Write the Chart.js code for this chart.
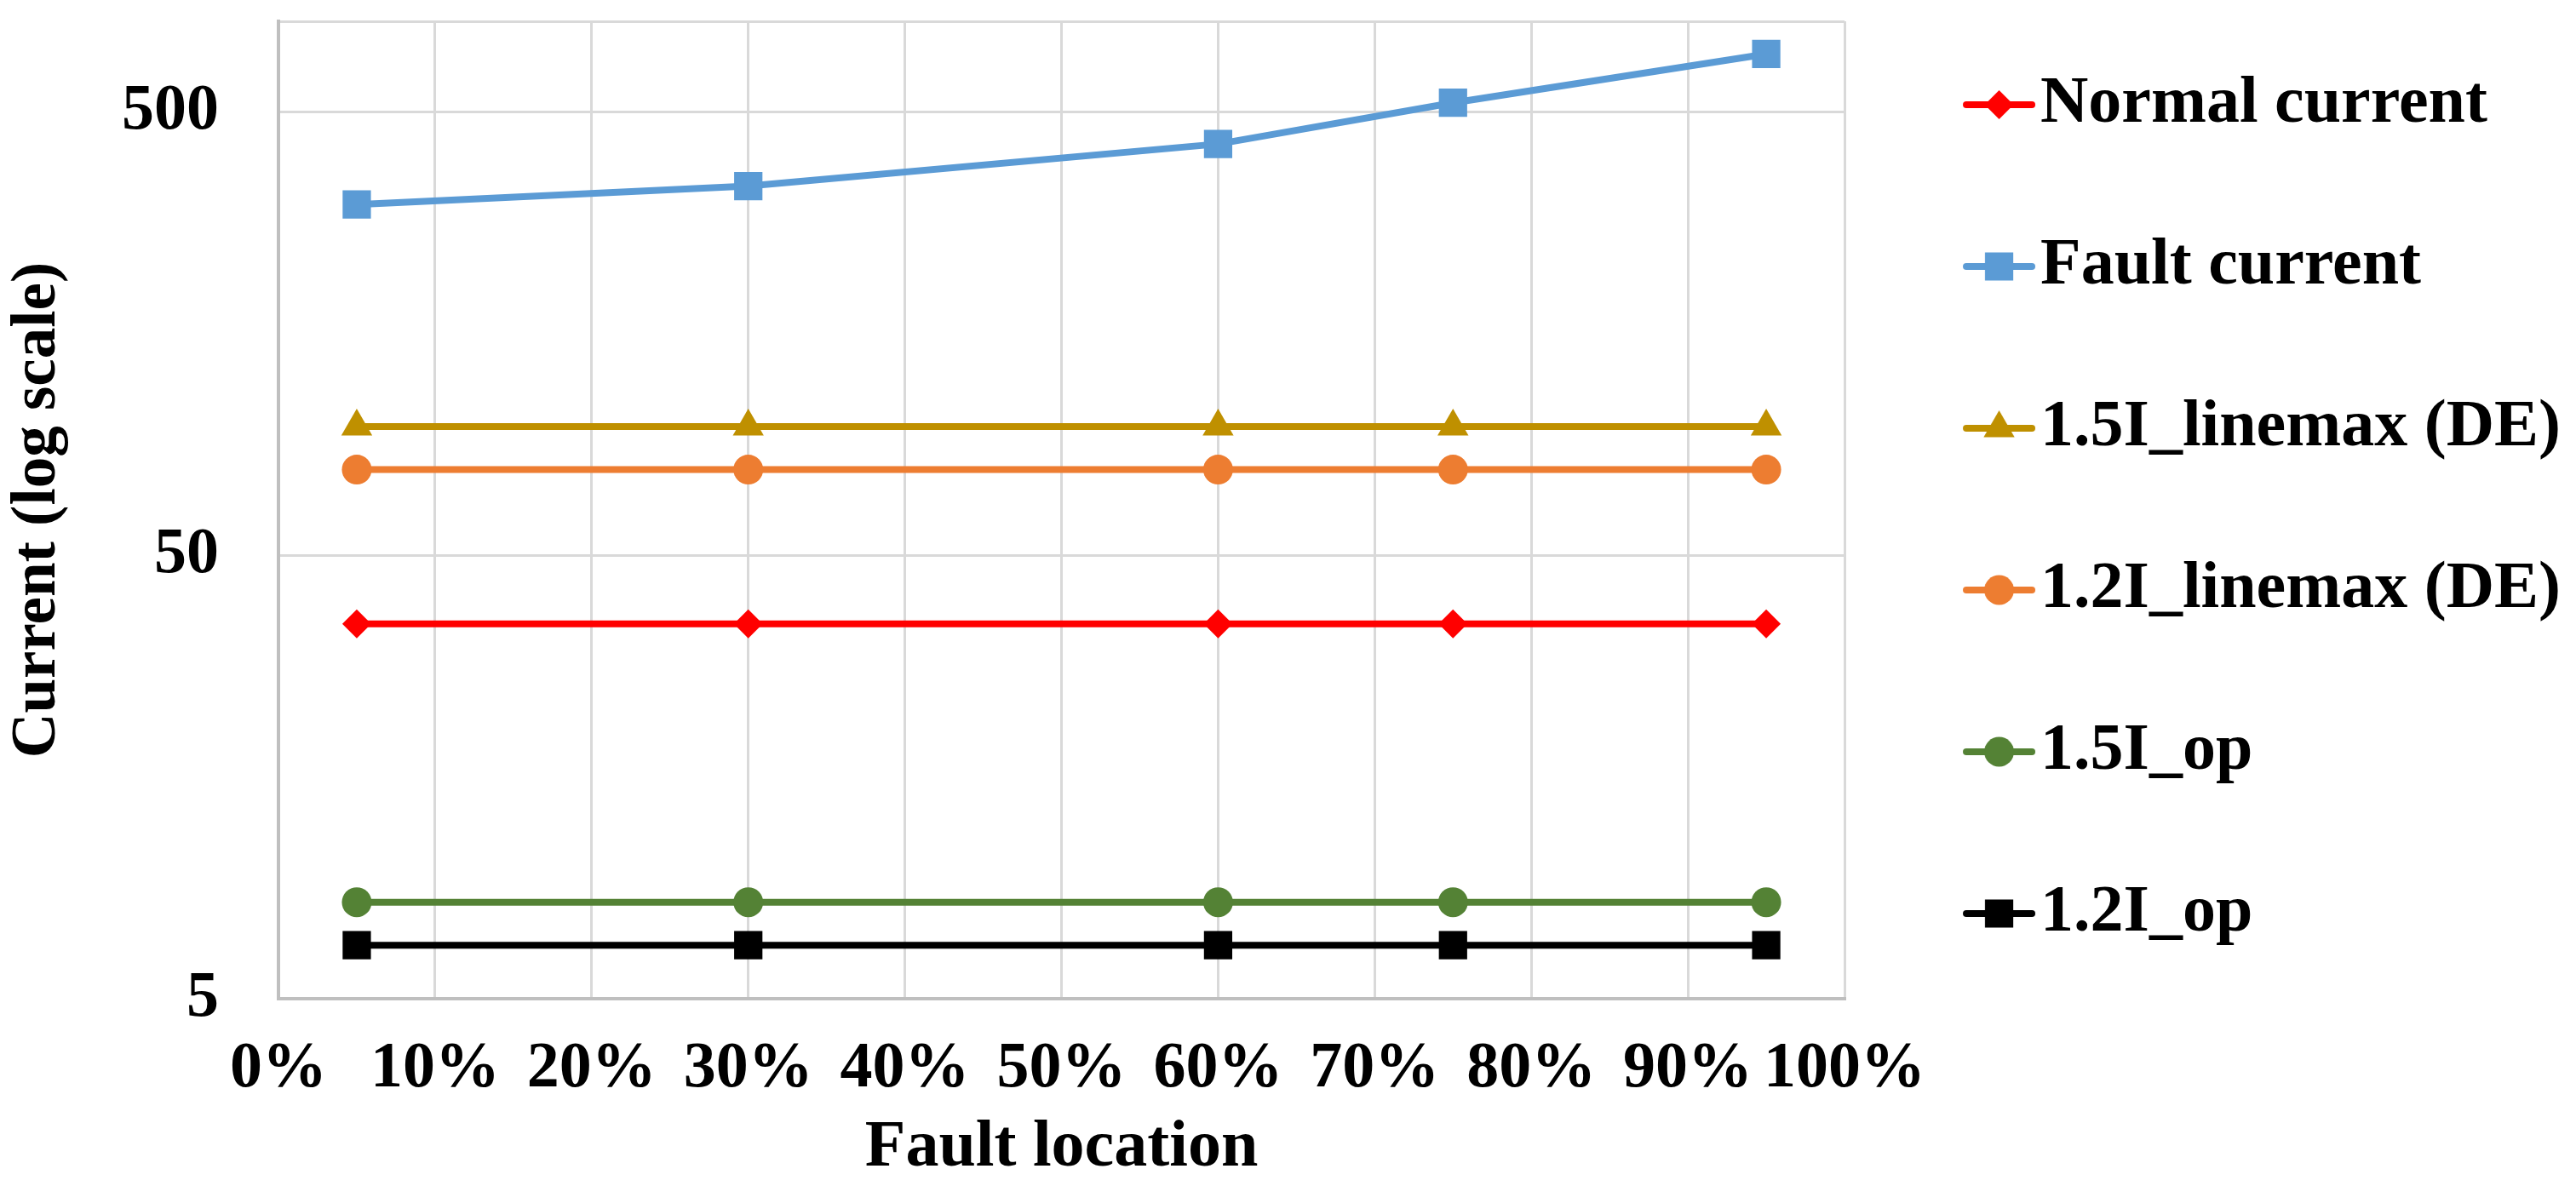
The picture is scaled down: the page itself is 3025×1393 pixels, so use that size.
<!DOCTYPE html>
<html>
<head>
<meta charset="utf-8">
<script src="https://cdn.jsdelivr.net/npm/chart.js@4.4.1/dist/chart.umd.min.js"></script>
<style>
html, body { margin: 0; padding: 0; background: #ffffff; }
#wrap { width: 3025px; height: 1393px; position: relative; }
</style>
</head>
<body>
<div id="wrap"><canvas id="c"></canvas></div>
<script>
// ---------------- data ----------------
const faultLocations = [5, 30, 60, 75, 95];            // % of line length
const seriesNames = ['Normal current', 'Fault current', '1.5I_linemax (DE)', '1.2I_linemax (DE)', '1.5I_op', '1.2I_op'];
const normalCurrent = [35, 35, 35, 35, 35];
const faultCurrent = [309, 340, 423, 524, 675];
const linemax15 = [97.5, 97.5, 97.5, 97.5, 97.5];
const linemax12 = [78, 78, 78, 78, 78];
const op15 = [8.25, 8.25, 8.25, 8.25, 8.25];
const op12 = [6.6, 6.6, 6.6, 6.6, 6.6];
const xTickValues = [0, 10, 20, 30, 40, 50, 60, 70, 80, 90, 100];
const xTickLabels = ['0%', '10%', '20%', '30%', '40%', '50%', '60%', '70%', '80%', '90%', '100%'];
const yTickValues = [5, 50, 500];
const yTickLabels = ['5', '50', '500'];
const yMin = 5;
const yMax = 800;
const xTitle = 'Fault location';
const yTitle = 'Current (log scale)';

// ---------------- styles ----------------
const seriesValues = [normalCurrent, faultCurrent, linemax15, linemax12, op15, op12];
const seriesColors = ['#FF0000', '#5B9BD5', '#BF9000', '#ED7D31', '#548235', '#000000'];
const seriesPoints = ['rectRot', 'rect', 'triangle', 'circle', 'circle', 'rect'];
const seriesRadius = [17, 23.5, 21, 17.5, 17.5, 23.5];
const FONT = 'Liberation Serif';

function makeIcon(color, style, radius) {
  const cv = document.createElement('canvas');
  cv.width = 153; cv.height = 48;
  const g = cv.getContext('2d');
  g.strokeStyle = color; g.fillStyle = color;
  g.lineWidth = 8; g.lineCap = 'round';
  g.beginPath(); g.moveTo(68, 24); g.lineTo(145, 24); g.stroke();
  if (Chart.helpers && Chart.helpers.drawPoint) {
    Chart.helpers.drawPoint(g, { pointStyle: style, radius: radius, borderWidth: 0, rotation: 0 }, 106.5, 24);
  }
  return cv;
}
const legendIcons = seriesNames.map((n, i) => makeIcon(seriesColors[i], seriesPoints[i], seriesRadius[i]));

const datasets = seriesNames.map((name, i) => ({
  label: name,
  data: faultLocations.map((x, j) => ({ x: x, y: seriesValues[i][j] })),
  borderColor: seriesColors[i],
  backgroundColor: seriesColors[i],
  borderWidth: 8,
  pointStyle: seriesPoints[i],
  pointRadius: seriesRadius[i],
  pointHoverRadius: seriesRadius[i],
  pointBorderWidth: 0,
  pointBackgroundColor: seriesColors[i],
  pointBorderColor: seriesColors[i],
  tension: 0,
  fill: false
}));

new Chart(document.getElementById('c'), {
  type: 'line',
  data: { datasets: datasets },
  options: {
    responsive: true,
    maintainAspectRatio: false,
    animation: false,
    devicePixelRatio: 1,
    layout: { padding: { top: 25, right: 8, bottom: 0, left: 0 } },
    font: { family: FONT, weight: 'bold' },
    plugins: {
      tooltip: { enabled: false },
      legend: {
        position: 'right',
        align: 'start',
        maxWidth: 1000,
        title: { display: true, text: ' ', font: { size: 1, lineHeight: 1 }, padding: { top: -54, bottom: 0 } },
        labels: {
          usePointStyle: true,
          pointStyleWidth: 79,
          padding: 112,
          color: '#000000',
          font: { family: FONT, size: 78, weight: 'bold' },
          generateLabels: (chart) => chart.data.datasets.map((ds, i) => ({
            text: ds.label,
            fillStyle: ds.borderColor,
            strokeStyle: ds.borderColor,
            lineWidth: 0,
            pointStyle: legendIcons[i],
            hidden: false,
            datasetIndex: i,
            fontColor: '#000000'
          }))
        }
      }
    },
    scales: {
      x: {
        type: 'linear',
        min: 0,
        max: 100,
        afterBuildTicks: (scale) => { scale.ticks = xTickValues.map(v => ({ value: v })); },
        afterFit: (scale) => { scale.height = 220; },
        ticks: {
          autoSkip: false,
          maxRotation: 0,
          minRotation: 0,
          padding: 0,
          color: '#000000',
          font: { family: FONT, size: 76, weight: 'bold', lineHeight: 1.2 },
          callback: (v) => { const k = xTickValues.indexOf(Math.round(v)); return k >= 0 ? xTickLabels[k] : ''; }
        },
        grid: { color: '#D9D9D9', lineWidth: 3, drawTicks: true, tickLength: 38, tickColor: 'rgba(0,0,0,0)' },
        border: { color: '#BFBFBF', width: 4 },
        title: { display: true, text: xTitle, color: '#000000', font: { family: FONT, size: 78, weight: 'bold', lineHeight: 1 }, padding: { top: 0, bottom: 5 } }
      },
      y: {
        type: 'logarithmic',
        min: yMin,
        max: yMax,
        bounds: 'data',
        afterBuildTicks: (scale) => { scale.ticks = yTickValues.concat([yMax]).map(v => ({ value: v })); },
        afterFit: (scale) => { scale.width = 327; },
        ticks: {
          padding: 0,
          color: '#000000',
          font: { family: FONT, size: 76, weight: 'bold', lineHeight: 0.5 },
          callback: (v) => { const k = yTickValues.indexOf(v); return k >= 0 ? yTickLabels[k] : ''; }
        },
        grid: { color: '#D9D9D9', lineWidth: 3, drawTicks: true, tickLength: 70, tickColor: 'rgba(0,0,0,0)' },
        border: { color: '#BFBFBF', width: 4 },
        title: { display: true, text: yTitle, color: '#000000', font: { family: FONT, size: 73, weight: 'bold', lineHeight: 1.2 }, padding: { top: 1, bottom: 0 } }
      }
    }
  }
});
</script>
</body>
</html>
